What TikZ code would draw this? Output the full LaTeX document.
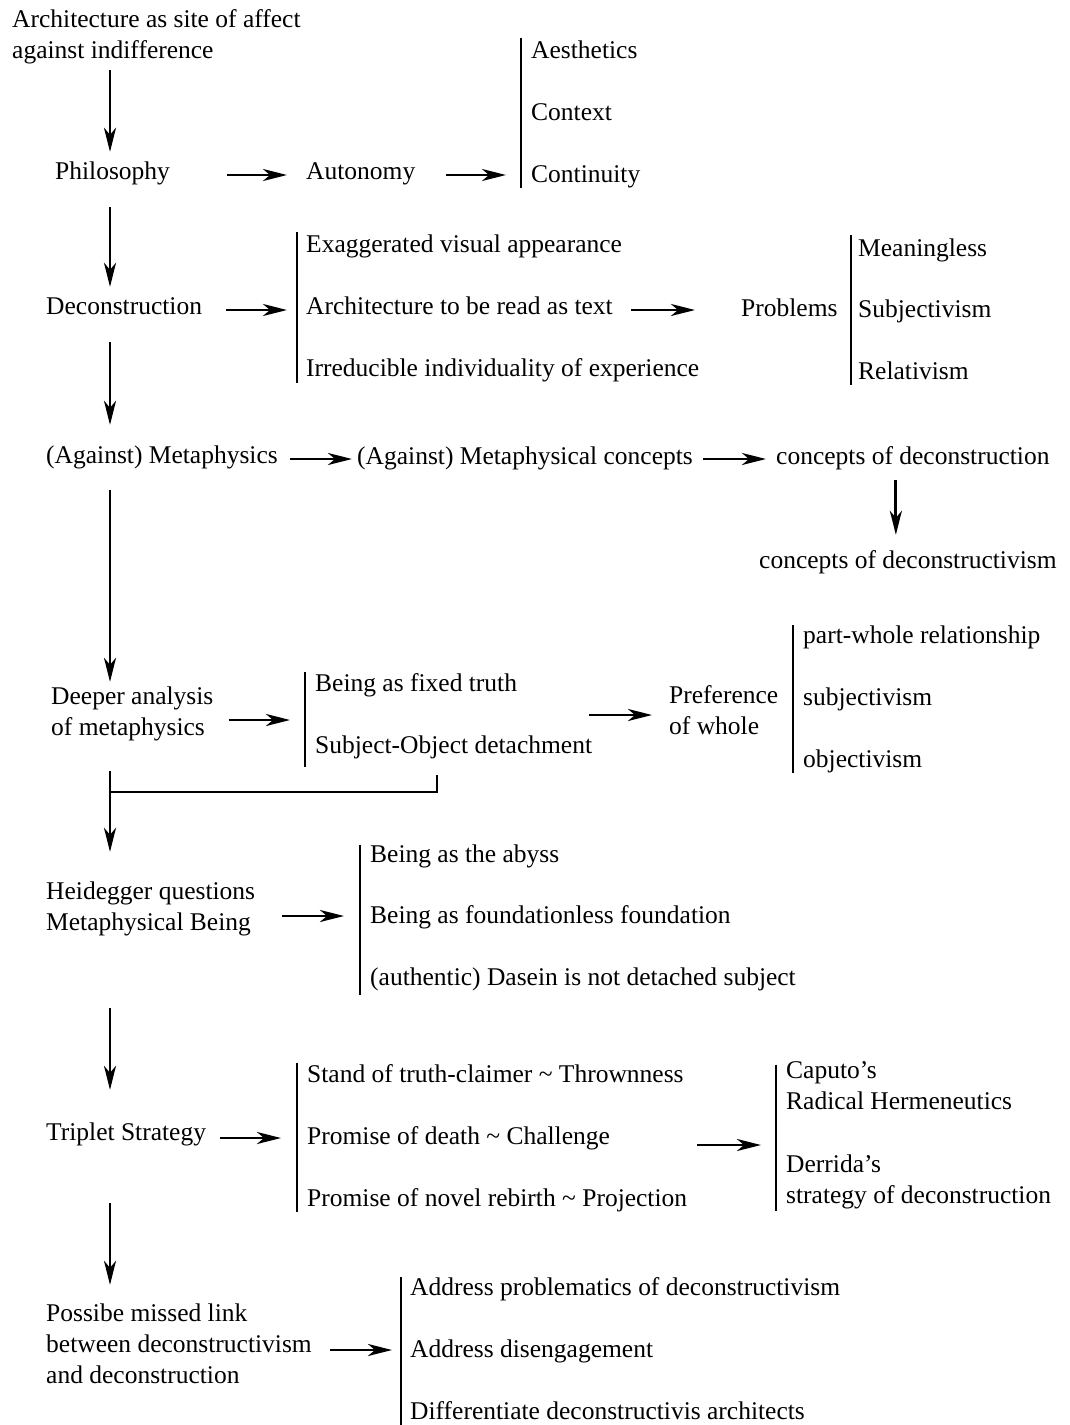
\documentclass[tikz,border=0pt]{standalone}
\usepackage{fontspec}
\setmainfont{Liberation Serif}
\usetikzlibrary{arrows.meta}
\begin{document}
\begin{tikzpicture}[x=1pt,y=-1pt,
  lbl/.style={inner sep=0pt, anchor=west, align=left,
    font=\fontsize{25.5}{31}\selectfont,
    execute at begin node=\strut, execute at end node=\strut},
  arr/.style={line width=2.9pt, -{Stealth[length=24pt,width=12pt,inset=7pt]}},
  brk/.style={line width=2.6pt},
  ln/.style={line width=2.9pt}]
\useasboundingbox (0,0) rectangle (1069,1425);

% main column
\coordinate (colx) at (110,0);
\node[lbl] (arch)  at (12,39)    {Architecture as site of affect\\against indifference};
\node[lbl] (phil)  at (55,173.5) {Philosophy};
\node[lbl] (decon) at (46,308.5) {Deconstruction};
\node[lbl] (met)   at (46,457.5) {(Against) Metaphysics};
\node[lbl] (deep)  at (51,716)   {Deeper analysis\\of metaphysics};
\node[lbl] (heid)  at (46,911)   {Heidegger questions\\Metaphysical Being};
\node[lbl] (trip)  at (46,1134.5) {Triplet Strategy};
\node[lbl] (missed) at (46,1348.5) {Possibe missed link\\between deconstructivism\\and deconstruction};

% philosophy branch
\node[lbl] (auto) at (306,173.5) {Autonomy};
\node[lbl] (aes)  at (531,52.5)  {Aesthetics};
\node[lbl] (ctx)  at (531,114.5) {Context};
\node[lbl] (cont) at (531,176.5) {Continuity};

% deconstruction branch
\node[lbl] (exag) at (306,246.5) {Exaggerated visual appearance};
\node[lbl] (read) at (306,308.5) {Architecture to be read as text};
\node[lbl] (irre) at (306,370.5) {Irreducible individuality of experience};
\node[lbl] (prob) at (741,310.5) {Problems};
\node[lbl] (mean) at (858,250.5) {Meaningless};
\node[lbl] (subj) at (858,311.5) {Subjectivism};
\node[lbl] (rel)  at (858,373.5) {Relativism};

% metaphysics branch
\node[lbl] (metc) at (357,458.5) {(Against) Metaphysical concepts};
\node[lbl] (cod)  at (776,458.5) {concepts of deconstruction};
\node[lbl] (codv) at (759,562.5) {concepts of deconstructivism};

% deeper analysis branch
\node[lbl] (bft)  at (315,685.5) {Being as fixed truth};
\node[lbl] (sod)  at (315,747.5) {Subject-Object detachment};
\node[lbl] (pref) at (669,715)   {Preference\\of whole};
\node[lbl] (pw)   at (803,637.5) {part-whole relationship};
\node[lbl] (sbj2) at (803,699.5) {subjectivism};
\node[lbl] (obj)  at (803,761.5) {objectivism};

% Heidegger branch
\node[lbl] (abyss)  at (370,856.5) {Being as the abyss};
\node[lbl] (found)  at (370,917.5) {Being as foundationless foundation};
\node[lbl] (dasein) at (370,979.5) {(authentic) Dasein is not detached subject};

% triplet strategy branch
\node[lbl] (stand)   at (307,1076.5) {Stand of truth-claimer \textasciitilde{} Thrownness};
\node[lbl] (death)   at (307,1138.5) {Promise of death \textasciitilde{} Challenge};
\node[lbl] (rebirth) at (307,1200.5) {Promise of novel rebirth \textasciitilde{} Projection};
\node[lbl] (caputo)  at (786,1090.5) {Caputo’s\\Radical Hermeneutics};
\node[lbl] (derrida) at (786,1183.5) {Derrida’s\\strategy of deconstruction};

% missed link branch
\node[lbl] (addr) at (410,1289.5) {Address problematics of deconstructivism};
\node[lbl] (dis)  at (410,1351.5) {Address disengagement};
\node[lbl] (diff) at (410,1413.5) {Differentiate deconstructivis architects};

% vertical flow of the main column
\draw[arr, shorten <=2pt, shorten >=6pt] (arch.south -| colx) -- (phil.north -| colx);
\draw[arr, shorten <=18pt, shorten >=6pt] (phil.south -| colx) -- (decon.north -| colx);
\draw[arr, shorten <=18pt, shorten >=17pt] (decon.south -| colx) -- (met.north -| colx);
\draw[arr, shorten <=17pt, shorten >=5pt] (met.south -| colx) -- (deep.north -| colx);
\coordinate (jn) at (110,792);
\coordinate (jr) at (437,775);
\draw[ln, shorten <=26pt] (deep.south -| jn) -- (jn) -| (jr);
\draw[arr, shorten >=30pt] (jn) -- (heid.north -| jn);
\draw[arr, shorten <=68pt, shorten >=29pt] (heid.south -| colx) -- (trip.north -| colx);
\draw[arr, shorten <=53pt, shorten >=19pt] (trip.south -| colx) -- (missed.north -| colx);

% horizontal arrows
\draw[arr, shorten <=57pt, shorten >=19pt] ([yshift=-1.5pt]phil.east) -- ([yshift=-1.5pt]phil.east -| auto.west);
\draw[arr, shorten <=31pt, shorten >=25pt] ([yshift=-1.5pt]auto.east) -- ([yshift=-1.5pt]auto.east -| cont.west);
\draw[arr, shorten <=24pt, shorten >=19pt] ([yshift=-1.5pt]decon.east) -- ([yshift=-1.5pt]decon.east -| read.west);
\draw[arr, shorten <=18pt, shorten >=46pt] ([yshift=-1.5pt]read.east) -- ([yshift=-1.5pt]read.east -| prob.west);
\draw[arr, shorten <=12pt, shorten >=5pt] ([yshift=-1.5pt]met.east) -- ([yshift=-1.5pt]met.east -| metc.west);
\draw[arr, shorten <=10pt, shorten >=10pt] ([yshift=-0.5pt]metc.east) -- ([yshift=-0.5pt]metc.east -| cod.west);
\draw[arr, shorten <=6pt, shorten >=12pt] ([xshift=-17pt]cod.south) -- ([xshift=-17pt]cod.south |- codv.north);
\draw[arr, shorten <=15pt, shorten >=25pt] ([yshift=-4pt]deep.east) -- ([yshift=-4pt]deep.east -| bft.west);
\draw[arr, shorten <=-3pt, shorten >=17pt] (pref.west -| sod.east) -- (pref.west);
\draw[arr, shorten <=27pt, shorten >=26pt] ([yshift=1.5pt]found.west -| heid.east) -- ([yshift=1.5pt]found.west);
\draw[arr, shorten <=14pt, shorten >=26pt] ([yshift=0.5pt]death.west -| trip.east) -- ([yshift=0.5pt]death.west);
\draw[arr, shorten <=10pt, shorten >=25pt] ([yshift=-6.5pt]death.west -| rebirth.east) -- ([yshift=-6.5pt]death.west -| caputo.west);
\draw[arr, shorten <=18pt, shorten >=18pt] ([yshift=1.5pt]dis.west -| missed.east) -- ([yshift=1.5pt]dis.west);

% brackets grouping the listed items
\draw[brk] ([xshift=-10pt,yshift=-1pt]aes.north west) -- ([xshift=-10pt,yshift=4pt]cont.south west);
\draw[brk] ([xshift=-9pt,yshift=-1pt]exag.north west) -- ([xshift=-9pt,yshift=3pt]irre.south west);
\draw[brk] ([xshift=-7pt]mean.north west) -- ([xshift=-7pt,yshift=4pt]rel.south west);
\draw[brk] ([xshift=-10pt,yshift=-2pt]bft.north west) -- ([xshift=-10pt,yshift=-4pt]sod.south west);
\draw[brk] ([xshift=-10pt,yshift=-3pt]pw.north west) -- ([xshift=-10pt,yshift=4pt]obj.south west);
\draw[brk] ([xshift=-10pt,yshift=-4pt]abyss.north west) -- ([xshift=-10pt]dasein.south west);
\draw[brk] ([xshift=-10pt,yshift=-2pt]stand.north west) -- ([xshift=-10pt,yshift=4pt]rebirth.south west);
\draw[brk] ([xshift=-10pt,yshift=-3pt]caputo.north west) -- ([xshift=-10pt,yshift=2pt]derrida.south west);
\draw[brk] ([xshift=-9pt,yshift=-3pt]addr.north west) -- ([xshift=-9pt,yshift=4pt]diff.south west);
\end{tikzpicture}
\end{document}
